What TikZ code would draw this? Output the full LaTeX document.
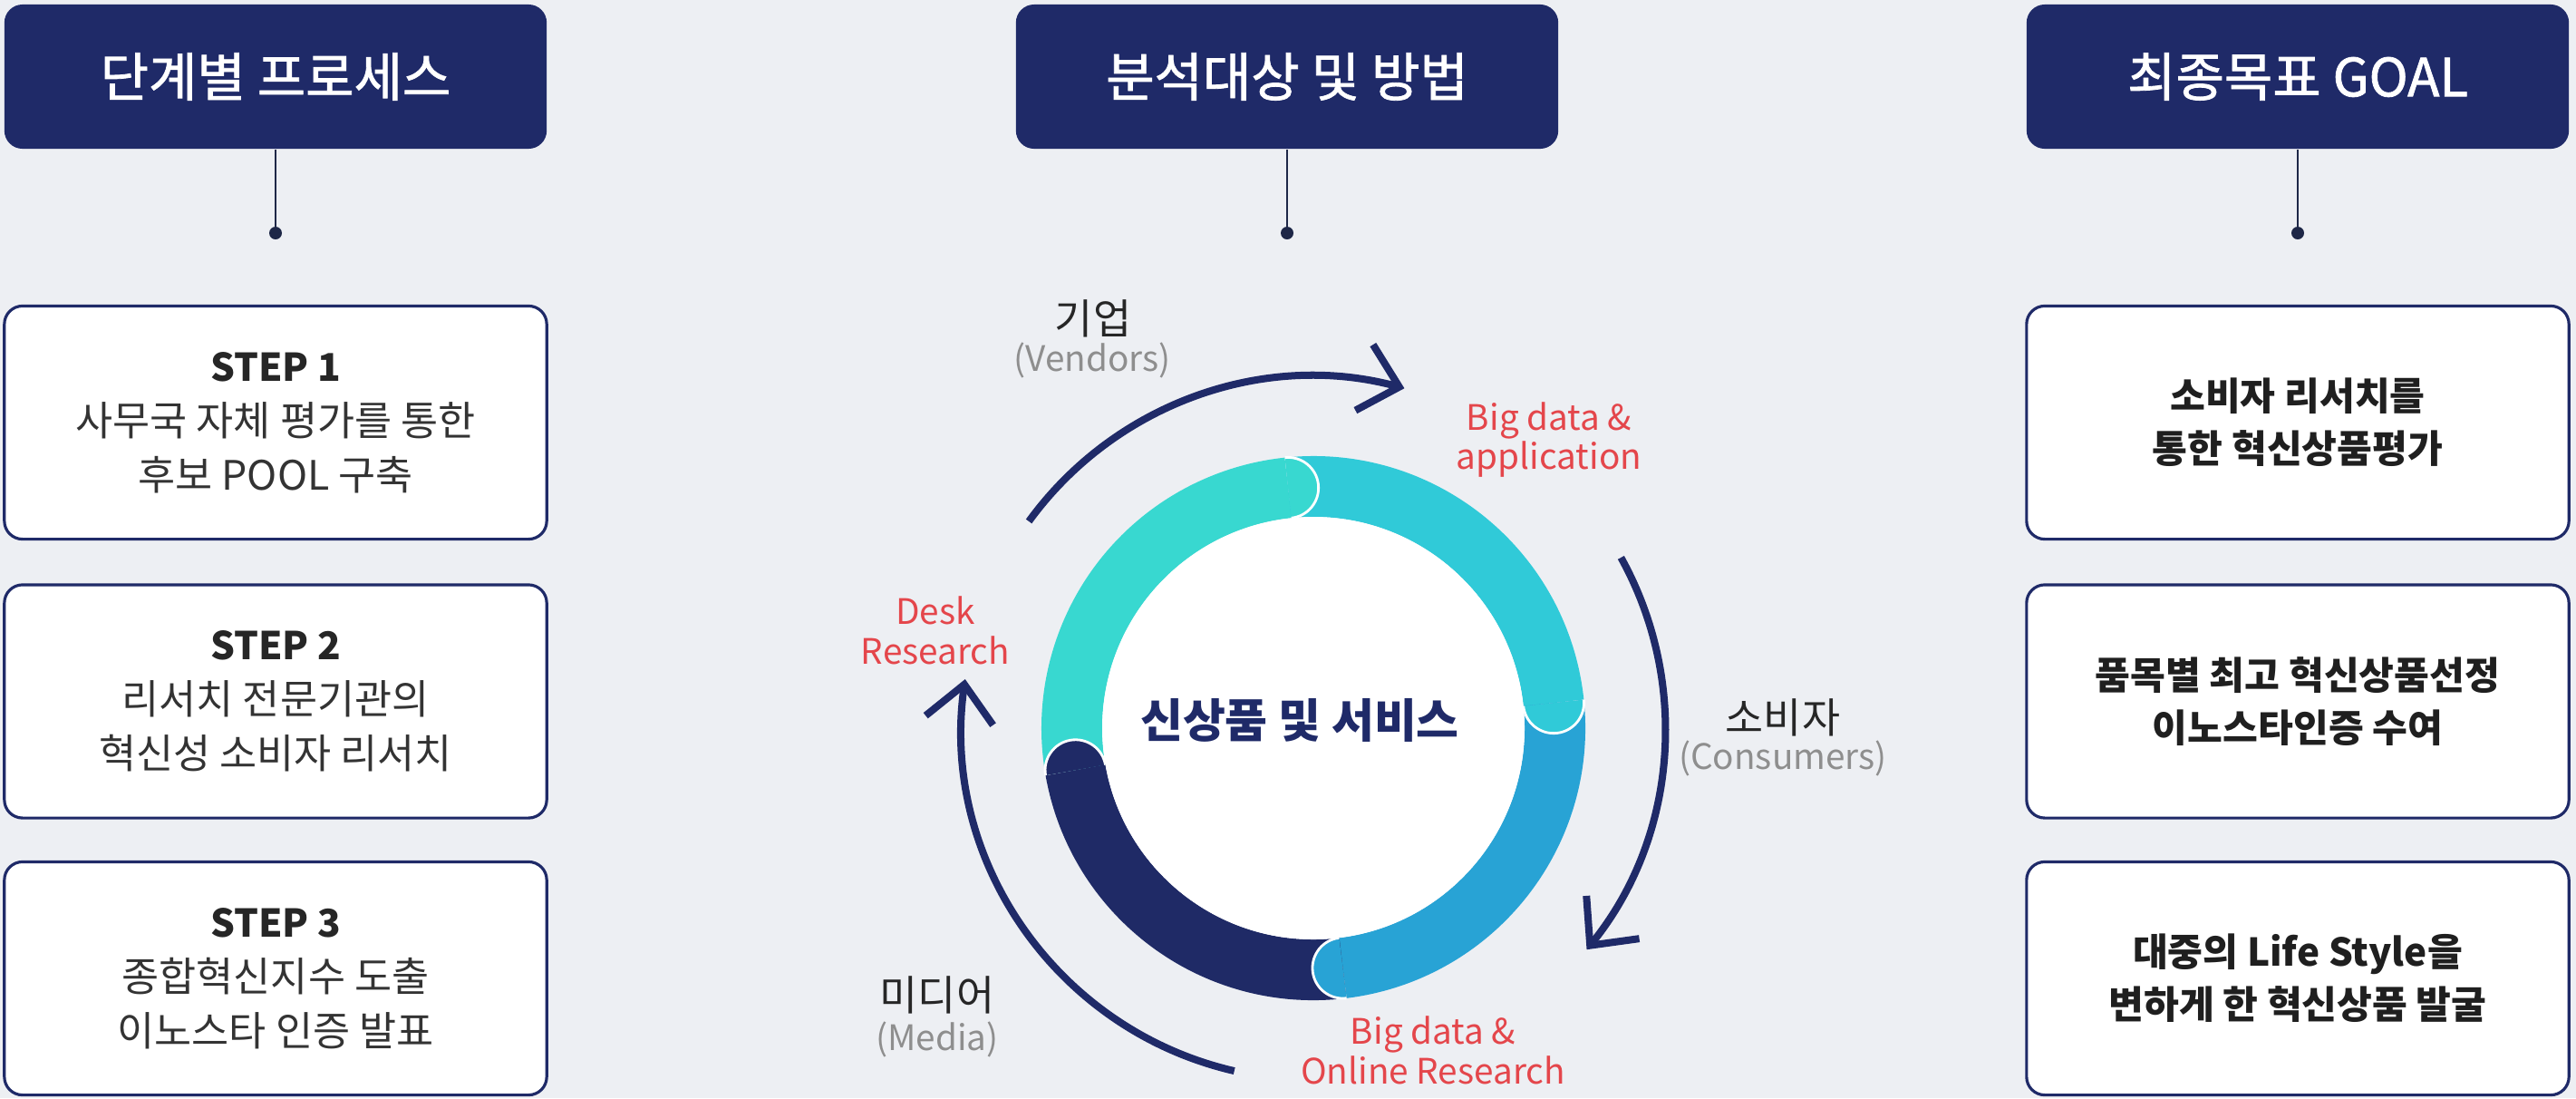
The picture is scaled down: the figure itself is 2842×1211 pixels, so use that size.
\documentclass[tikz,border=0pt]{standalone}
\usepackage{fontspec}
\setmainfont{Noto Sans CJK KR}
\newfontfamily\headfont[FakeBold=1.4]{Noto Sans CJK KR}
\usetikzlibrary{arrows.meta,positioning}
\definecolor{bg}{HTML}{EDEFF3}
\definecolor{navy}{HTML}{1F2A68}
\definecolor{wirec}{HTML}{1E2747}
\definecolor{cyanA}{HTML}{38D8D0}
\definecolor{cyanB}{HTML}{30CAD8}
\definecolor{blueC}{HTML}{28A3D5}
\definecolor{navyD}{HTML}{1F2A66}
\definecolor{txt}{HTML}{333333}
\definecolor{muted}{HTML}{8E8E8E}
\definecolor{redm}{HTML}{E4464B}
\begin{document}
\begin{tikzpicture}[x=0.01cm,y=0.01cm,
  >={Straight Barb[length=4mm,width=7.5mm]},
  head/.style={fill=navy,rounded corners=0.2cm,minimum width=5.98cm,minimum height=1.59cm,
    text=white,font=\headfont\fontsize{16.5}{19}\selectfont},
  card/.style={draw=navy,fill=white,line width=0.9pt,rounded corners=0.2cm,
    minimum width=5.98cm,minimum height=2.57cm,align=center,text=txt,
    font=\fontsize{12.7}{17}\selectfont},
  wire/.style={wirec,line width=0.6pt},
  seg/.style={line width=0.67cm},
  flow/.style={navy,line width=0.08cm,->},
  who/.style={text=black!85,font=\fontsize{13}{15}\selectfont},
  sub/.style={text=muted,font=\fontsize{11}{13}\selectfont},
  meth/.style={text=redm,align=center,font=\fontsize{11}{12.5}\selectfont}]

  % Background
  \fill[bg] (0,0) rectangle (2842,-1211);
  \useasboundingbox (0,0) rectangle (2842,-1211);

  % Headers and dots
  \foreach \i/\x/\lbl in {1/304/단계별 프로세스, 2/1420/분석대상 및 방법, 3/2535/최종목표 GOAL} {
    \node[head] (H\i) at (\x,-84.5) {\lbl};
    \coordinate (D\i) at (\x,-257);
    \draw[wire] (H\i) -- (D\i);
    \fill[wirec] (D\i) circle[radius=7];
  }

  % Steps
  \foreach \i/\y/\body in {1/466/{사무국 자체 평가를 통한\\후보 POOL 구축},
      2/773.5/{리서치 전문기관의\\혁신성 소비자 리서치},
      3/1079/{종합혁신지수 도출\\이노스타 인증 발표}}
    \node[card] (S\i) at (304,-\y) {{\fontsize{12}{17}\selectfont\bfseries\color{black!85}STEP \i}\\\body};

  % Goals
  \foreach \i/\y/\body in {1/466/{소비자 리서치를\\통한 혁신상품평가},
      2/773.5/{품목별 최고 혁신상품선정\\이노스타인증 수여},
      3/1079/{대중의 Life Style을\\변하게 한 혁신상품 발굴}}
    \node[card,text=black!88,font=\fontsize{12}{16.5}\selectfont\bfseries] (G\i) at (2535,-\y) {\body};

  % Ring
  \coordinate (C) at (1449,-803);
  \foreach \c/\a/\b in {cyanA/190/96, cyanB/96/6, blueC/6/-83, navyD/-83/-170}
    \draw[seg,\c] (C) ++(\a:266.5) arc[start angle=\a,end angle=\b,radius=266.5];
  \fill[white] (C) circle[radius=233];
  \foreach \c/\a in {cyanA/96, cyanB/6, blueC/-83, navyD/-170} {
    \fill[\c] (C) ++(\a:266.5) ++(\a:33.5) arc[start angle=\a,delta angle=-180,radius=33.5] -- cycle;
    \draw[white,line width=0.8pt] (C) ++(\a:266.5) ++(\a:33.5) arc[start angle=\a,delta angle=-180,radius=33.5];
  }
  \node[text=navy,font=\fontsize{14.5}{17}\selectfont\bfseries] (N) at (1434,-794) {신상품 및 서비스};

  % Arrows
  \foreach \a/\b in {144/75, 29/-39, -103/-188}
    \draw[flow] (C) ++(\a:388) arc[start angle=\a,end angle=\b,radius=388];

  % Labels
  \node[who] (Ven) at (1206,-351) {기업};
  \node[sub] (VenE) at (1205,-397) {(Vendors)};
  \node[who] (Con) at (1967,-791) {소비자};
  \node[sub] (ConE) at (1967,-836) {(Consumers)};
  \node[who] (Med) at (1034,-1097) {미디어};
  \node[sub] (MedE) at (1034,-1146) {(Media)};
  \node[meth] (M1) at (1709,-485) {Big data \&\\application};
  \node[meth] (M2) at (1032,-695) {Desk\\Research};
  \node[meth] (M3) at (1581,-1158) {Big data \&\\Online Research};

\end{tikzpicture}
\end{document}
